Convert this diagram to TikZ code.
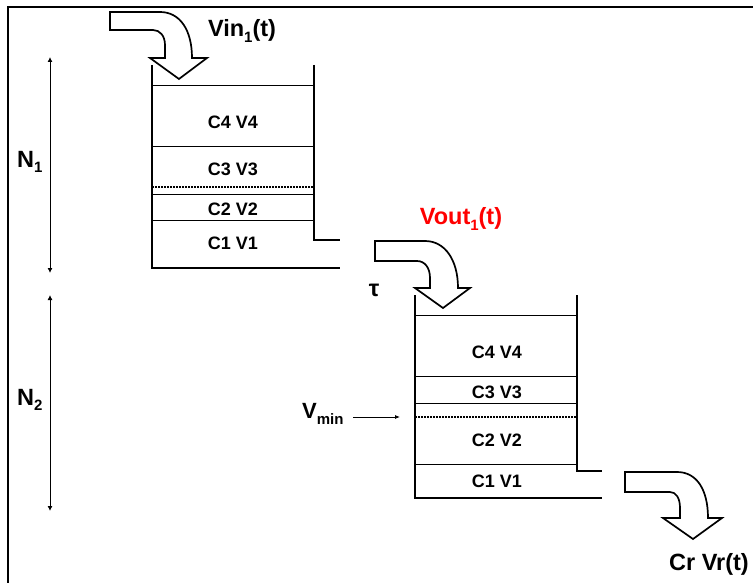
\documentclass[tikz,border=0pt]{standalone}
\usepackage{fontspec}
\setmainfont{Liberation Sans}
\usetikzlibrary{arrows.meta}
\newcommand\mysub[2]{\raisebox{-0.45ex}{\fontsize{#1}{#1}\selectfont #2}}
\tikzset{
  wall/.style={line width=1.8pt},
  level/.style={line width=0.9pt},
  dotlevel/.style={line width=1.3pt, dash pattern=on 1.5pt off 1.5pt},
  blockarrow/.style={line width=1.7pt, fill=white, line join=miter},
  dimarrow/.style={line width=0.9pt, {Latex[length=5pt,width=5pt]}-{Latex[length=5pt,width=5pt]}},
  tanklabel/.style={font=\fontsize{18}{20}\selectfont\bfseries, inner sep=0pt},
  biglabel/.style={font=\fontsize{23.5}{26}\selectfont\bfseries, inner sep=0pt},
}
\begin{document}
\begin{tikzpicture}[x=1pt,y=-1pt]
\useasboundingbox (0,0) rectangle (753,583);
\fill[white] (0,0) rectangle (753,583);
% frame
\draw[line width=2.4pt] (8,583) -- (8,7) -- (753,7);

% ---------- tank 1 ----------
\draw[wall] (152,65) -- (152,268) -- (340,268);
\draw[wall] (314,65) -- (314,240) -- (340,240);
\draw[level] (152,85) -- (314,85);
\draw[level] (152,146) -- (314,146);
\draw[dotlevel] (152,187) -- (314,187);
\draw[level] (152,194) -- (314,194);
\draw[level] (152,220) -- (314,220);
\node[tanklabel] (t1c4) at (233,122) {C4 V4};
\node[tanklabel] (t1c3) at (233,169) {C3 V3};
\node[tanklabel] (t1c2) at (233,209) {C2 V2};
\node[tanklabel] (t1c1) at (233,243) {C1 V1};

% ---------- tank 2 ----------
\draw[wall] (415,295) -- (415,498) -- (602,498);
\draw[wall] (577,295) -- (577,471) -- (602,471);
\draw[level] (415,315) -- (577,315);
\draw[level] (415,376) -- (577,376);
\draw[level] (415,403) -- (577,403);
\draw[dotlevel] (415,417) -- (577,417);
\draw[level] (415,464) -- (577,464);
\node[tanklabel] (t2c4) at (497,352) {C4 V4};
\node[tanklabel] (t2c3) at (497,392) {C3 V3};
\node[tanklabel] (t2c2) at (497,440) {C2 V2};
\node[tanklabel] (t2c1) at (497,481) {C1 V1};

% ---------- curved block arrows ----------
\draw[blockarrow] (110,12) -- (160,12) .. controls (180,12) and (192,30) .. (192,58)
  -- (207,58) -- (179,79) -- (150,58) -- (165,58) -- (165,45)
  .. controls (165,36) and (160,30) .. (153,30) -- (110,30) -- cycle;
\draw[blockarrow] (375,241) -- (425,241) .. controls (445,241) and (458,260) .. (458,288)
  -- (470,288) -- (443,308) -- (415,288) -- (430,288) -- (430,278)
  .. controls (430,268) and (425,261) .. (417,261) -- (375,261) -- cycle;
\draw[blockarrow] (625,472) -- (677,472) .. controls (697,472) and (708,490) .. (708,518)
  -- (722,518) -- (693,539) -- (663,518) -- (680,518) -- (680,508)
  .. controls (680,498) and (676,492) .. (670,492) -- (625,492) -- cycle;

% ---------- labels ----------
\node[biglabel] (vin) at (242,31) {Vin\mysub{15}{1}(t)};
\node[biglabel, text=red] (vout) at (461,219) {Vout\mysub{15}{1}(t)};
\node[biglabel] (tau) at (374,290) {τ};
\node[biglabel] (cr) at (709,564) {Cr Vr(t)};
\node[biglabel, font=\fontsize{22}{24}\selectfont\bfseries, anchor=west] (vmin) at (302,414) {V\mysub{15}{min}};

% V_min pointer
\coordinate (vminstart) at (353,417);
\coordinate (vminend) at (400,417);
\draw[line width=0.8pt, -{Latex[length=5pt,width=4pt]}] (vminstart) -- (vminend);

% ---------- N arrows ----------
\coordinate (n1top) at (50,57);
\coordinate (n1bot) at (50,273);
\coordinate (n2top) at (50,295);
\coordinate (n2bot) at (50,511);
\draw[dimarrow] (n1top) -- (n1bot);
\draw[dimarrow] (n2top) -- (n2bot);
\node[biglabel, anchor=west] (n1) at (17,162) {N\mysub{15}{1}};
\node[biglabel, anchor=west] (n2) at (17,400) {N\mysub{15}{2}};
\end{tikzpicture}
\end{document}
